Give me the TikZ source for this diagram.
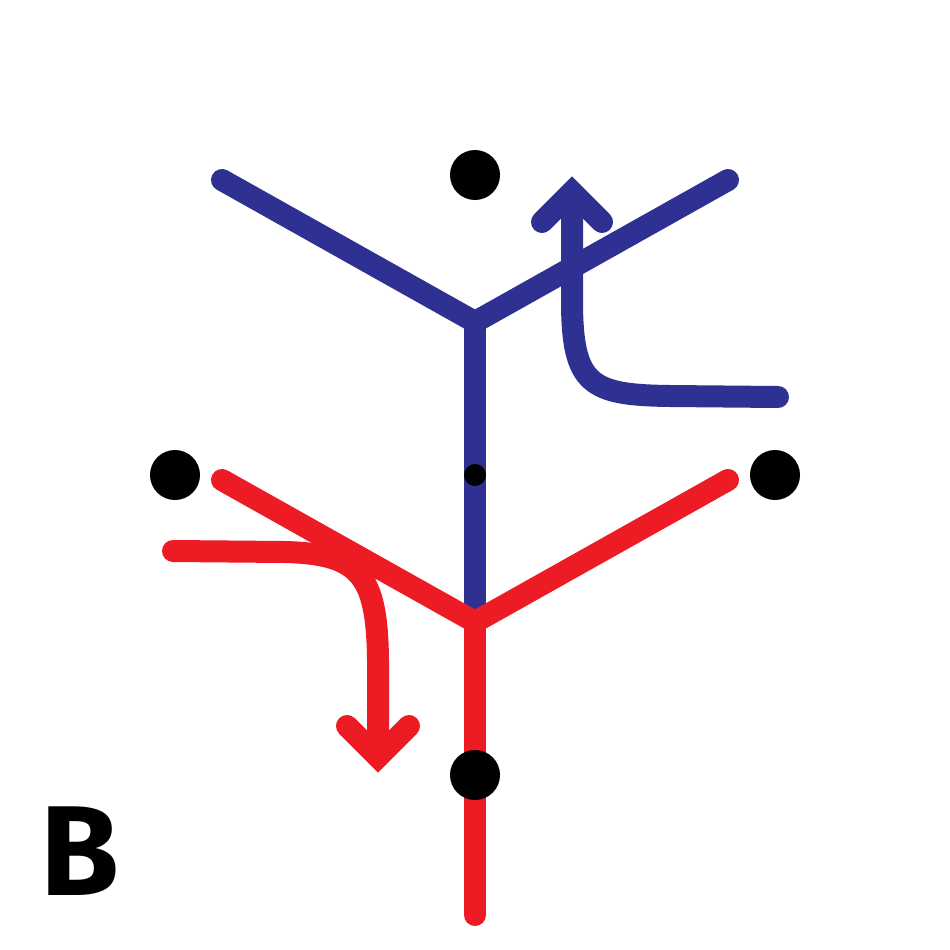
\documentclass[tikz,border=0pt]{standalone}
\usepackage{fontspec}
\newfontfamily\labelfont{Fira Sans}
\definecolor{bluey}{RGB}{46,49,146}
\definecolor{redy}{RGB}{237,28,36}
\begin{document}
\begin{tikzpicture}[x=1pt,y=-1pt,
  branch/.style={line width=22pt,line cap=round,line join=miter},
  dot/.style={circle,fill=black,inner sep=0pt,minimum size=50pt},
  smalldot/.style={circle,fill=black,inner sep=0pt,minimum size=22pt}]
\useasboundingbox (0,0) rectangle (950,950);
% coordinates
\coordinate (bl) at (222,180);
\coordinate (bj) at (475,322);
\coordinate (br) at (728,180);
\coordinate (bb) at (475,612);
\coordinate (rl) at (222,480);
\coordinate (rj) at (475,622);
\coordinate (rr) at (728,480);
\coordinate (rb) at (475,915);
% blue Y
\draw[branch,bluey] (bl) -- (bj) -- (br);
\draw[bluey,line width=22pt] (bj) -- (bb);
% blue arrow
\coordinate (ba0) at (778,397);
\coordinate (ba1) at (670,396);
\coordinate (ba2) at (572,300);
\coordinate (bav) at (572,192);
\draw[branch,bluey] (ba0) -- (ba1) .. controls (590,395) and (572,385) .. (ba2) -- (bav);
\draw[branch,bluey] (542,222) -- (bav) -- (602,222);
% red Y
\draw[branch,redy] (rl) -- (rj) -- (rr);
\draw[branch,redy] (rj) -- (rb);
% red arrow
\coordinate (ra0) at (173,551);
\coordinate (ra1) at (285,552);
\coordinate (ra2) at (378,660);
\coordinate (rav) at (378,757);
\draw[branch,redy] (ra0) -- (ra1) .. controls (360,554) and (377,575) .. (ra2) -- (rav);
\draw[branch,redy] (347,726) -- (rav) -- (409,726);
% dots
\node[dot] (d1) at (475,175) {};
\node[dot] (d2) at (175,475) {};
\node[dot] (d3) at (775,475) {};
\node[dot] (d4) at (475,775) {};
\node[smalldot] (d5) at (475,475) {};
% label
\node[font=\labelfont\bfseries\fontsize{128}{128}\selectfont,inner sep=0pt] (lab) at (80,851) {B};
\end{tikzpicture}
\end{document}
